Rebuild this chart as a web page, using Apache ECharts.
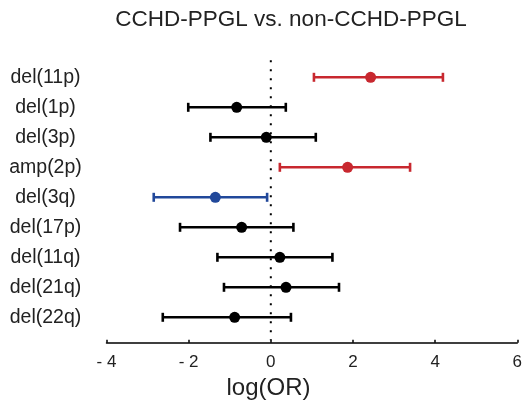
<!DOCTYPE html>
<html>
<head>
<meta charset="utf-8">
<script src="https://cdn.jsdelivr.net/npm/echarts@6/dist/echarts.min.js"></script>
<style>html,body{margin:0;padding:0;background:#fff;}#c{width:525px;height:404px;}</style>
</head>
<body>
<div id="c"></div>
<script>
var categories = ['del(11p)','del(1p)','del(3p)','amp(2p)','del(3q)','del(17p)','del(11q)','del(21q)','del(22q)'];
var estimates = [2.43, -0.83, -0.11, 1.87, -1.35, -0.71, 0.22, 0.37, -0.88];
var lowers    = [1.05, -2.01, -1.47, 0.22, -2.85, -2.21, -1.30, -1.14, -2.63];
var uppers    = [4.19, 0.365, 1.095, 3.39, -0.09, 0.55, 1.50, 1.66, 0.49];
var groups    = ['up','none','none','up','down','none','none','none','none'];
var xTicks = [-4, -2, 0, 2, 4, 6];

var colorMap = {up:'#c8282f', down:'#21489a', none:'#000000'};
var FONT = 'Liberation Sans, Arial, sans-serif';

var barData = categories.map(function(c,i){ return [lowers[i], uppers[i], i, groups[i]]; });
var pointData = categories.map(function(c,i){ return {value:[estimates[i], i], itemStyle:{color: colorMap[groups[i]], opacity:1}}; });

var chart = echarts.init(document.getElementById('c'));
chart.setOption({
  animation:false,
  title:[
    {text:'CCHD-PPGL vs. non-CCHD-PPGL', left:286, top:3, textAlign:'center',
     textStyle:{fontFamily:FONT, fontSize:22.5, fontWeight:'normal', color:'#222'}},
    {text:'log(OR)', left:263.5, top:371, textAlign:'center',
     textStyle:{fontFamily:FONT, fontSize:24, fontWeight:'normal', color:'#222'}}
  ],
  grid:{left:106.5, right:7.3, top:62.3, bottom:71.7, containLabel:false},
  xAxis:{
    type:'value', min:xTicks[0], max:xTicks[xTicks.length-1], interval:2, offset:10.4,
    axisLine:{show:true, lineStyle:{color:'#000', width:1.5}},
    axisTick:{show:true, inside:true, length:3, lineStyle:{color:'#000', width:1.5}},
    splitLine:{show:false},
    axisLabel:{fontFamily:FONT, fontSize:17, color:'#222', margin:11,
      formatter:function(v){ return v < 0 ? '- ' + Math.abs(v) : String(v); }}
  },
  yAxis:{
    type:'category', data:categories, inverse:true,
    axisLine:{show:false}, axisTick:{show:false}, splitLine:{show:false},
    axisLabel:{fontFamily:FONT, fontSize:19.5, color:'#222', align:'center', margin:61}
  },
  series:[
    {
      type:'custom',
      data:[[0]],
      z:1,
      renderItem:function(params, api){
        var p = api.coord([0, 0]);
        var cs = params.coordSys;
        return {type:'line', shape:{x1:p[0], y1:cs.y-2, x2:p[0], y2:cs.y+cs.height+8},
          style:{stroke:'#000', lineWidth:2, lineDash:[2,7]}};
      }
    },
    {
      type:'custom',
      data:barData,
      z:2,
      renderItem:function(params, api){
        var lo = api.coord([api.value(0), api.value(2)]);
        var hi = api.coord([api.value(1), api.value(2)]);
        var col = colorMap[barData[params.dataIndex][3]];
        var h = 4.5;
        var st = {stroke:col, lineWidth:2.6};
        return {type:'group', children:[
          {type:'line', shape:{x1:lo[0], y1:lo[1], x2:hi[0], y2:hi[1]}, style:st},
          {type:'line', shape:{x1:lo[0], y1:lo[1]-h, x2:lo[0], y2:lo[1]+h}, style:st},
          {type:'line', shape:{x1:hi[0], y1:hi[1]-h, x2:hi[0], y2:hi[1]+h}, style:st}
        ]};
      }
    },
    {
      type:'scatter', data:pointData, symbol:'circle', symbolSize:11, z:3,
      itemStyle:{opacity:1}
    }
  ]
});
</script>
</body>
</html>
